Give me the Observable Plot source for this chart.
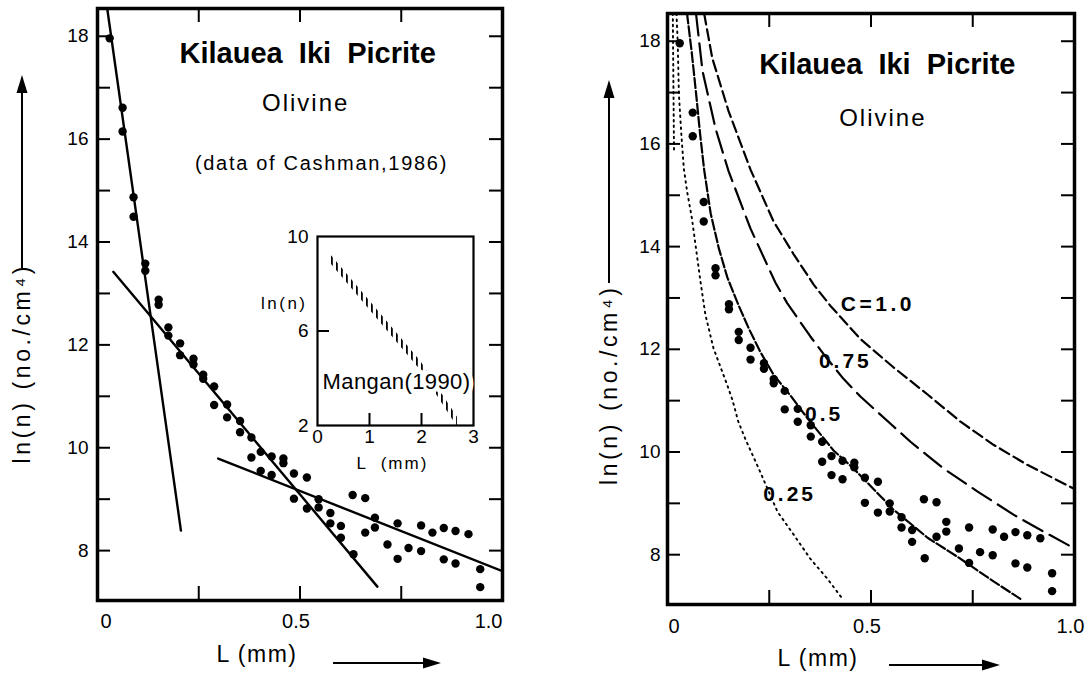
<!DOCTYPE html>
<html>
<head>
<meta charset="utf-8">
<script src="https://cdn.jsdelivr.net/npm/d3@7"></script>
<script src="https://cdn.jsdelivr.net/npm/@observablehq/plot@0.6"></script>
<style>
  body { margin: 0; background: #fff; }
  #wrap { position: relative; width: 1090px; height: 682px; overflow: hidden; background: #fff; }
  #wrap svg { position: absolute; top: 0; }
  svg text { white-space: pre; }
</style>
</head>
<body>
<div id="wrap"></div>
<script>
// ---------- data: olivine crystal size distribution (Cashman, 1986) ----------
const sizeL = [0.030,0.062,0.062,0.089,0.089,0.118,0.118,0.151,0.151,0.175,0.175,0.204,0.204,0.237,0.237,0.261,0.261,0.288,0.288,0.320,0.320,0.352,0.352,0.380,0.380,0.403,0.403,0.430,0.430,0.459,0.459,0.485,0.517,0.485,0.517,0.546,0.546,0.575,0.575,0.601,0.601,0.630,0.632,0.661,0.661,0.685,0.685,0.716,0.741,0.741,0.768,0.799,0.799,0.827,0.855,0.855,0.884,0.884,0.916,0.945,0.945];
const lnN  = [17.96,16.61,16.15,14.87,14.49,13.58,13.44,12.88,12.78,12.34,12.18,12.03,11.80,11.73,11.62,11.42,11.34,11.19,10.83,10.84,10.59,10.52,10.30,10.20,9.81,9.92,9.55,9.83,9.47,9.79,9.70,9.50,9.42,9.01,8.82,9.00,8.84,8.73,8.53,8.48,8.25,9.08,7.93,9.02,8.35,8.64,8.45,8.12,8.53,7.84,8.05,8.49,7.99,8.35,8.44,7.83,8.38,7.75,8.32,7.64,7.29];

// fitted straight lines (left panel)
const fitSteepL = [0.024, 0.206], fitSteepY = [18.54, 8.39];
const fitMidL   = [0.039, 0.691], fitMidY   = [13.42, 7.30];
const fitFlatL  = [0.298, 1.000], fitFlatY  = [9.79, 7.60];

// model curves (right panel)
const c100L = [0.09,0.11,0.15,0.204,0.26,0.31,0.36,0.40,0.474,0.555,0.639,0.72,0.801,0.884,1.0];
const c100Y = [18.54,17.67,16.64,15.5,14.5,13.85,13.25,12.85,12.2,11.65,11.12,10.59,10.14,9.75,9.28];
const c075L = [0.07,0.086,0.118,0.15,0.204,0.265,0.294,0.351,0.392,0.433,0.474,0.548,0.597,0.678,0.762,0.85,0.924,1.0];
const c075Y = [18.54,17.42,16.3,15.47,14.35,13.3,12.9,12.25,11.82,11.42,11.08,10.55,10.2,9.68,9.23,8.78,8.45,8.12];
const c050L = [0.048,0.06,0.07,0.08,0.09,0.106,0.126,0.147,0.175,0.2,0.228,0.261,0.302,0.335,0.368,0.408,0.457,0.506,0.555,0.639,0.72,0.801,0.867];
const c050Y = [18.54,17.75,17.0,16.2,15.5,14.65,13.97,13.4,12.85,12.4,11.95,11.5,11.1,10.75,10.42,10.03,9.68,9.28,8.88,8.33,7.92,7.48,7.14];
const c025L = [0.022,0.025,0.028,0.034,0.04,0.048,0.06,0.072,0.081,0.093,0.113,0.147,0.16,0.174,0.192,0.224,0.27,0.31,0.351,0.393,0.43];
const c025Y = [18.54,18.0,16.97,16.19,15.53,15.08,14.55,13.85,13.32,12.68,12.02,11.3,11.0,10.59,10.24,9.68,8.84,8.39,7.92,7.53,7.14];
const c025bL = [0.013, 0.016], c025bY = [18.54, 15.85];
const curveNames = ["C=1.0", "0.75", "0.5", "0.25"];
const curveLabelL = [0.517, 0.437, 0.385, 0.30];
const curveLabelY = [12.88, 11.76, 10.74, 9.17];

// inset: Mangan (1990) band
const insetBandL  = [0.27, 1.99, 2.69];
const insetBandHi = [9.18, 4.70, 2.35];
const insetBandLo = [8.82, 4.32, 1.95];

// axes
const yDomain = [7.03, 18.54];
const yTickValues = [8,9,10,11,12,13,14,15,16,17,18];
const yLabelValues = [8,10,12,14,16,18];
const xTickValues = [0.25,0.5,0.75];
const xLabelValues = [0, 0.5, 1.0];
const xLabelTexts = ["0", "0.5", "1.0"];
const insetXLabels = [0,1,2,3];
const insetYLabels = [2,6,10];

// ---------- tables ----------
const pts = sizeL.map((L, i) => ({L, lnN: lnN[i]}));
const fits = [
  ...fitSteepL.map((L,i)=>({fit:"a", L, lnN: fitSteepY[i]})),
  ...fitMidL.map((L,i)=>({fit:"b", L, lnN: fitMidY[i]})),
  ...fitFlatL.map((L,i)=>({fit:"c", L, lnN: fitFlatY[i]}))
];
const mk = (Ls, Ys) => Ls.map((L,i)=>({L, lnN: Ys[i]}));
const curveLabels = curveNames.map((t,i)=>({t, L: curveLabelL[i], lnN: curveLabelY[i]}));
const band = insetBandL.map((L,i)=>({L, hi: insetBandHi[i], lo: insetBandLo[i]}));

const font = "Liberation Sans, Arial, Helvetica, sans-serif";
const W = 545, H = 682;

function frameTicks(fw, fh, len) {
  return [
    Plot.ruleY(yTickValues, {y: d=>d, insetRight: fw-len, stroke:"black", strokeWidth:2}),
    Plot.ruleY(yTickValues, {y: d=>d, insetLeft: fw-len, stroke:"black", strokeWidth:2}),
    Plot.ruleX(xTickValues, {x: d=>d, insetTop: fh-len-1, stroke:"black", strokeWidth:2}),
    Plot.ruleX(xTickValues, {x: d=>d, insetBottom: fh-len-1, stroke:"black", strokeWidth:2})
  ];
}
function tickLabels(dyX, dxY, specs) {
  return [
    Plot.text(yLabelValues, {y: d=>d, frameAnchor:"left", dx:dxY, textAnchor:"end", fontSize:19, fontFamily:font, fill:"black", text: d=>String(d)}),
    ...xLabelValues.map((v,i)=>Plot.text([v], {x:d=>d, frameAnchor:"bottom", dy:dyX, dx:specs[i][1], textAnchor:specs[i][0], fontSize:20, fontFamily:font, fill:"black", text: ()=>xLabelTexts[i]}))
  ];
}

// ---------- left panel ----------
const m1 = {l:97, r:43, t:8, b:82};
const fw1 = W - m1.l - m1.r, fh1 = H - m1.t - m1.b;
const left = Plot.plot({
  width: W, height: H,
  marginLeft: m1.l, marginRight: m1.r, marginTop: m1.t, marginBottom: m1.b,
  x: {domain: [0, 1], axis: null},
  y: {domain: yDomain, axis: null},
  style: {background: "transparent", fontFamily: font},
  marks: [
    ...frameTicks(fw1, fh1, 13),
    Plot.line(fits, {x:"L", y:"lnN", z:"fit", stroke:"black", strokeWidth:2.4, clip:true}),
    Plot.dot(pts, {x:"L", y:"lnN", r:4.2, fill:"black", stroke:"none"}),
    Plot.text(["Kilauea  Iki  Picrite"], {x:0.519, y:17.66, fontSize:29, fontWeight:"bold", fontFamily:font, fill:"black"}),
    Plot.text(["Olivine"], {x:0.514, y:16.7, fontSize:24, fontFamily:font, fill:"black"}),
    Plot.text(["(data of Cashman,1986)"], {x:0.553, y:15.52, fontSize:20, fontFamily:font, fill:"black"}),
    Plot.frame({stroke:"black", strokeWidth:3.5}),
    ...tickLabels(27, -9, [["start",3],["middle",-4],["end",0]]),
    Plot.text(["ln(n) (no./cm⁴)"], {frameAnchor:"left", rotate:-90, textAnchor:"start", dx:-75, dy:159, fontSize:23, fontFamily:font, fill:"black"}),
    Plot.text(["L (mm)"], {frameAnchor:"bottom", textAnchor:"middle", dx:-43, dy:61, fontSize:23, fontFamily:font, fill:"black"})
  ]
});

// ---------- right panel ----------
const m2 = {l:122, r:16, t:13, b:78};
const fw2 = W - m2.l - m2.r, fh2 = H - m2.t - m2.b;
const right = Plot.plot({
  width: W, height: H,
  marginLeft: m2.l, marginRight: m2.r, marginTop: m2.t, marginBottom: m2.b,
  x: {domain: [0, 1], axis: null},
  y: {domain: yDomain, axis: null},
  style: {background: "transparent", fontFamily: font},
  marks: [
    ...frameTicks(fw2, fh2, 13),
    Plot.line(mk(c100L, c100Y), {x:"L", y:"lnN", stroke:"black", strokeWidth:2.2, strokeDasharray:"11,5", clip:true}),
    Plot.line(mk(c075L, c075Y), {x:"L", y:"lnN", stroke:"black", strokeWidth:2.2, strokeDasharray:"22,8", clip:true}),
    Plot.line(mk(c050L, c050Y), {x:"L", y:"lnN", stroke:"black", strokeWidth:2.2, strokeDasharray:"10,3", clip:true}),
    Plot.line(mk(c025L, c025Y), {x:"L", y:"lnN", stroke:"black", strokeWidth:1.9, strokeDasharray:"1.6,4.4", clip:true}),
    Plot.line(mk(c025bL, c025bY), {x:"L", y:"lnN", stroke:"black", strokeWidth:1.9, strokeDasharray:"1.6,4", clip:true}),
    Plot.text(curveLabels, {x:"L", y:"lnN", text:"t", fontSize:21, fontWeight:"bold", fontFamily:font, fill:"black"}),
    Plot.dot(pts, {x:"L", y:"lnN", r:4.2, fill:"black", stroke:"none"}),
    Plot.text(["Kilauea  Iki  Picrite"], {x:0.54, y:17.55, fontSize:29, fontWeight:"bold", fontFamily:font, fill:"black"}),
    Plot.text(["Olivine"], {x:0.529, y:16.5, fontSize:24, fontFamily:font, fill:"black"}),
    Plot.frame({stroke:"black", strokeWidth:3.5}),
    ...tickLabels(28, -7, [["start",1],["middle",-4],["middle",-4]]),
    Plot.text(["ln(n) (no./cm⁴)"], {frameAnchor:"left", rotate:-90, textAnchor:"start", dx:-58, dy:176, fontSize:23, fontFamily:font, fill:"black"}),
    Plot.text(["L (mm)"], {frameAnchor:"bottom", textAnchor:"middle", dx:-53, dy:61, fontSize:23, fontFamily:font, fill:"black"})
  ]
});

// ---------- inset (Mangan 1990) ----------
const iPos = {left:240, top:220};
const mi = {l:77, r:12, t:16, b:60};
const iW = 245, iH = 265;
const ifw = iW - mi.l - mi.r, ifh = iH - mi.t - mi.b;
const inset = Plot.plot({
  width: iW, height: iH,
  marginLeft: mi.l, marginRight: mi.r, marginTop: mi.t, marginBottom: mi.b,
  x: {domain: [0, 3], axis: null},
  y: {domain: [2, 10], axis: null},
  style: {background: "transparent", fontFamily: font},
  marks: [
    Plot.areaY(band, {x:"L", y1:"lo", y2:"hi", fill:"url(#hatchPat)", clip:true}),
    Plot.ruleX([1,2], {x:d=>d, insetTop: ifh-12, stroke:"black", strokeWidth:2}),
    Plot.ruleY([6], {y:d=>d, insetRight: ifw-12, stroke:"black", strokeWidth:2}),
    Plot.frame({stroke:"black", strokeWidth:2.2}),
    Plot.text(["Mangan(1990)"], {x:1.52, y:3.86, fontSize:22, fontFamily:font, fill:"black", stroke:"white", strokeWidth:9}),
    Plot.text(insetYLabels, {y:d=>d, frameAnchor:"left", dx:-9, textAnchor:"end", fontSize:19, fontFamily:font, fill:"black", text:d=>String(d)}),
    Plot.text(insetXLabels, {x:d=>d, frameAnchor:"bottom", dy:17, fontSize:19, fontFamily:font, fill:"black", text:d=>String(d)}),
    Plot.text(["ln(n)"], {y:7.15, frameAnchor:"left", dx:-10, textAnchor:"end", fontSize:17, fontFamily:font, fill:"black"}),
    Plot.text(["L  (mm)"], {x:1.44, frameAnchor:"bottom", dy:43, fontSize:17, fontFamily:font, fill:"black"})
  ]
});
{
  const defs = d3.select(inset).insert("defs", ":first-child");
  const pat = defs.append("pattern").attr("id", "hatchPat").attr("patternUnits", "userSpaceOnUse")
    .attr("width", 5).attr("height", 400);
  pat.append("rect").attr("x", 1).attr("y", 0).attr("width", 1.8).attr("height", 400).attr("fill", "black");
}

// ---------- letter spacing of the typewritten labels ----------
function spaceText(svg, normal, bold) {
  d3.select(svg).selectAll("text").each(function() {
    const t = this.textContent;
    const isBold = this.closest('g[font-weight="bold"]') != null;
    const v = isBold ? bold[t] : normal[t];
    if (v != null) this.style.letterSpacing = v;
  });
}
const normalSpacing = {"Olivine": "2px", "(data of Cashman,1986)": "1.7px", "ln(n) (no./cm⁴)": "3.6px", "L (mm)": "1.5px", "ln(n)": "2.5px", "L  (mm)": "2px", "Mangan(1990)": "0.4px"};
const boldSpacing = {"C=1.0": "3.5px", "0.75": "3px", "0.5": "3px", "0.25": "3px"};
spaceText(left, normalSpacing, boldSpacing);
spaceText(right, normalSpacing, boldSpacing);
spaceText(inset, normalSpacing, boldSpacing);

// ---------- axis arrows (decoration) ----------
function arrow(svg, x1, y1, x2, y2) {
  const s = d3.select(svg);
  const ang = Math.atan2(y2 - y1, x2 - x1);
  const hl = 18, hw = 5.5;
  const bx = x2 - hl * Math.cos(ang), by = y2 - hl * Math.sin(ang);
  s.append("line").attr("x1", x1).attr("y1", y1).attr("x2", bx).attr("y2", by)
    .attr("stroke", "black").attr("stroke-width", 2);
  const px = -Math.sin(ang) * hw, py = Math.cos(ang) * hw;
  s.append("polygon").attr("points", `${x2},${y2} ${bx+px},${by+py} ${bx-px},${by-py}`).attr("fill", "black");
}
arrow(left, 22, 268, 22, 75);
arrow(left, 333, 663, 441, 663);
arrow(right, 64, 283, 64, 80);
arrow(right, 344, 665, 455, 665);

const wrap = document.getElementById("wrap");
left.style.left = "0px";
right.style.left = W + "px";
inset.style.left = iPos.left + "px";
inset.style.top = iPos.top + "px";
wrap.appendChild(left);
wrap.appendChild(right);
wrap.appendChild(inset);
</script>
</body>
</html>
